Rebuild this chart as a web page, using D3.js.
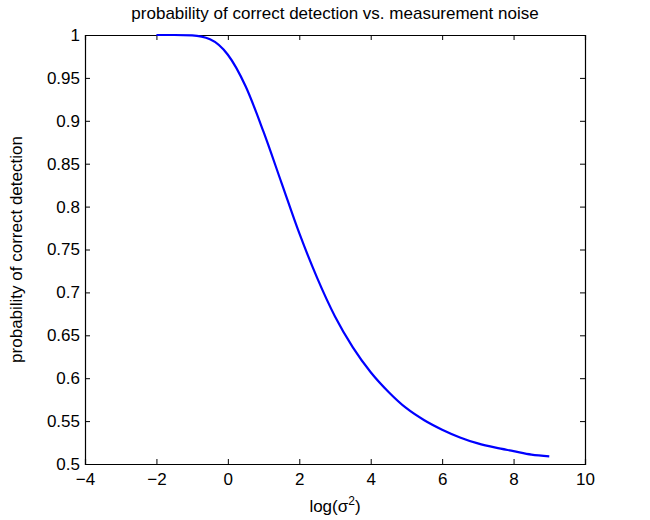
<!DOCTYPE html>
<html>
<head>
<meta charset="utf-8">
<script src="https://cdn.jsdelivr.net/npm/d3@7"></script>
<style>
  body { margin: 0; background: #fff; }
  text { font-family: "Liberation Sans", Arial, sans-serif; fill: #000; }
</style>
</head>
<body>
<div class="chart"></div>
<script>
'use strict';

// values
var logSigma2 = [-2, -1.5, -1, -0.5, 0, 0.5, 1, 1.5, 2, 2.5, 3, 3.5, 4, 4.5, 5, 5.5, 6, 6.5, 7, 7.5, 8, 8.5, 9];
var pDetect = [1.000, 1.000, 0.9995, 0.995, 0.977, 0.940, 0.887, 0.828, 0.769, 0.717, 0.672, 0.636, 0.607, 0.584,
               0.565, 0.551, 0.540, 0.531, 0.524, 0.519, 0.515, 0.511, 0.509];
var xTicks = [-4, -2, 0, 2, 4, 6, 8, 10];
var yTicks = [0.5, 0.55, 0.6, 0.65, 0.7, 0.75, 0.8, 0.85, 0.9, 0.95, 1];

var margin = {top: 35, right: 65, bottom: 56, left: 85};
var width = 650 - margin.left - margin.right;
var height = 520 - margin.top - margin.bottom;

var svg = d3.select(".chart")
            .append("svg")
            .attr("width", 650)
            .attr("height", 520);

var canvas = svg.append("g")
                .attr("transform", "translate(" + margin.left + "," + margin.top + ")");

var x = d3.scaleLinear().domain([-4, 10]).range([0, width]);
var y = d3.scaleLinear().domain([0.5, 1]).range([height, 0]);

var tickLen = 5;
var fontSize = 17;

// bottom axis, ticks pointing inwards
canvas.append("g")
      .attr("transform", "translate(0," + height + ")")
      .call(d3.axisBottom(x).tickValues(xTicks).tickSize(-tickLen).tickPadding(9)
              .tickFormat(function(d){ return d < 0 ? "\u2212" + Math.abs(d) : d; }));
// top axis (box)
canvas.append("g")
      .call(d3.axisTop(x).tickValues(xTicks).tickSize(-tickLen).tickFormat(""));

// left axis
canvas.append("g")
      .call(d3.axisLeft(y).tickValues(yTicks).tickSize(-tickLen).tickPadding(5)
              .tickFormat(function(d){ return +d.toFixed(2); }));
// right axis (box)
canvas.append("g")
      .attr("transform", "translate(" + width + ",0)")
      .call(d3.axisRight(y).tickValues(yTicks).tickSize(-tickLen).tickFormat(""));

canvas.selectAll(".domain").attr("stroke", "#000").attr("stroke-width", 1.2);
canvas.selectAll(".tick line").attr("stroke", "#000");
canvas.selectAll(".tick text")
      .style("font-family", "'Liberation Sans', Arial, sans-serif")
      .style("font-size", fontSize + "px")
      .attr("fill", "#000");

// the curve
var line = d3.line()
             .x(function(d, i){ return x(logSigma2[i]); })
             .y(function(d){ return y(d); })
             .curve(d3.curveMonotoneX);

canvas.append("path")
      .datum(pDetect)
      .attr("fill", "none")
      .attr("stroke", "#0000ff")
      .attr("stroke-width", 2.2)
      .attr("stroke-linejoin", "round")
      .attr("d", line);

// title
svg.append("text")
   .attr("x", margin.left + width / 2)
   .attr("y", 19)
   .attr("text-anchor", "middle")
   .style("font-size", fontSize + "px")
   .text("probability of correct detection vs. measurement noise");

// x label with superscript
var xLabel = svg.append("text")
                .attr("x", margin.left + width / 2)
                .attr("y", 512)
                .attr("text-anchor", "middle")
                .style("font-size", fontSize + "px");
xLabel.append("tspan").text("log(\u03c3");
xLabel.append("tspan").attr("dy", -7).style("font-size", "12px").text("2");
xLabel.append("tspan").attr("dy", 7).text(")");

// y label
svg.append("text")
   .attr("transform", "translate(22," + (margin.top + height / 2) + ") rotate(-90)")
   .attr("text-anchor", "middle")
   .style("font-size", fontSize + "px")
   .text("probability of correct detection");
</script>
</body>
</html>
